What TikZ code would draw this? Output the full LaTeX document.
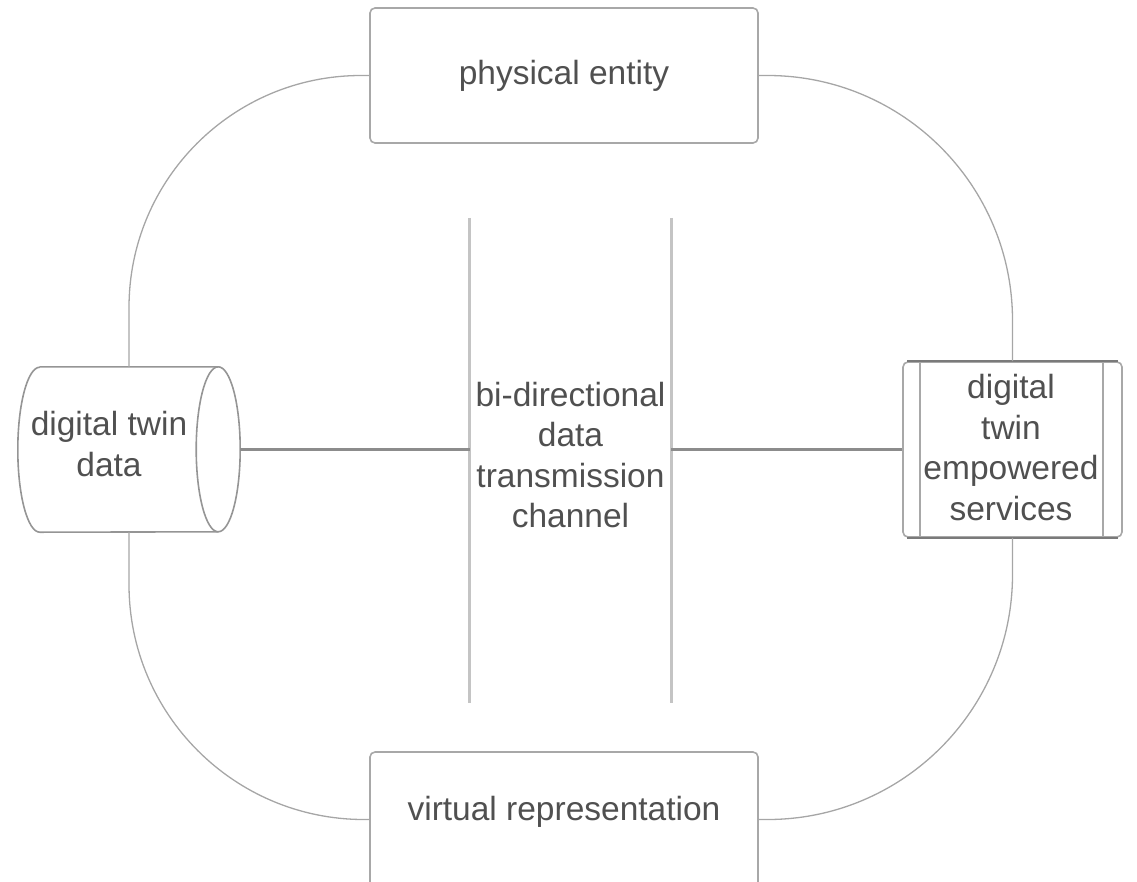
\documentclass[tikz,border=0pt]{standalone}
\usepackage{fontspec}
\setmainfont{Liberation Sans}
\definecolor{txtc}{HTML}{505050}
\definecolor{boxc}{HTML}{A8A8A8}
\definecolor{darkc}{HTML}{7A7A7A}
\definecolor{linkc}{HTML}{8C8C8C}
\definecolor{chanc}{HTML}{C4C4C4}
\definecolor{outc}{HTML}{A6A6A6}
\begin{document}
\begin{tikzpicture}[x=1pt,y=-1pt,
  every node/.style={font=\fontsize{33.5}{40.5}\selectfont, text=txtc, align=center, inner sep=0pt},
  box/.style={draw=boxc, line width=1.6pt, rounded corners=5pt, fill=white},
  outer/.style={draw=outc, line width=1.3pt},
  link/.style={draw=linkc, line width=3pt},
  chan/.style={draw=chanc, line width=3pt},
  cyl/.style={draw=darkc!80, line width=1.6pt}]
\useasboundingbox (0,0) rectangle (1137,881);

% nodes
\node[box, minimum width=388pt, minimum height=135pt] (pe) at (564,75.5) {physical entity};
\node[box, minimum width=388pt, minimum height=135pt] (vr) at (564,819.5) {};
\node (vrt) at (564,812) {virtual representation};
\node[minimum width=201pt, minimum height=485pt] (ch) at (570.5,460.5) {};
\node (cht) at (570.5,455) {bi-directional\\data\\transmission\\channel};
\node[minimum width=222pt, minimum height=165pt] (dtd) at (129,449.5) {};
\node (dtdt) at (109,444) {digital twin\\data};
\node[box, minimum width=219pt, minimum height=175pt] (svc) at (1012.5,449.5) {};
\node (svct) at (1011,447.5) {digital\\twin\\empowered\\services};

% cylinder outline
\draw[cyl] ([xshift=22pt]dtd.north west) -- ([xshift=-22pt]dtd.north east)
  arc[start angle=90, end angle=-90, x radius=22pt, y radius=82.5pt]
  -- ([xshift=22pt]dtd.south west)
  arc[start angle=270, end angle=90, x radius=22pt, y radius=82.5pt];
\draw[cyl] ([xshift=-22pt]dtd.north east)
  arc[start angle=90, end angle=270, x radius=22pt, y radius=82.5pt];

% process box inner lines and darker top/bottom
\draw[draw=boxc, line width=1.6pt] ([xshift=18pt]svc.north west) -- ([xshift=18pt]svc.south west);
\draw[draw=boxc, line width=1.6pt] ([xshift=-20pt]svc.north east) -- ([xshift=-20pt]svc.south east);
\draw[draw=darkc, line width=2pt] ([xshift=5pt]svc.north west) -- ([xshift=-5pt]svc.north east);
\draw[draw=darkc, line width=2pt] ([xshift=5pt]svc.south west) -- ([xshift=-5pt]svc.south east);

% channel lines
\draw[chan] (ch.north west) -- (ch.south west);
\draw[chan] (ch.north east) -- (ch.south east);

% connectors
\draw[link] (dtd.east) -- (dtd.east -| ch.west);
\draw[link] (svc.west -| ch.east) -- (svc.west);

% outer loop
\draw[outer, rounded corners=232pt] (pe.west) -| (dtd.north);
\draw[outer, rounded corners=245pt] (pe.east) -| (svc.north);
\draw[outer, rounded corners=235pt] (dtd.south) |- (vr.west);
\draw[outer, rounded corners=245pt] (svc.south) |- (vr.east);
\end{tikzpicture}
\end{document}
